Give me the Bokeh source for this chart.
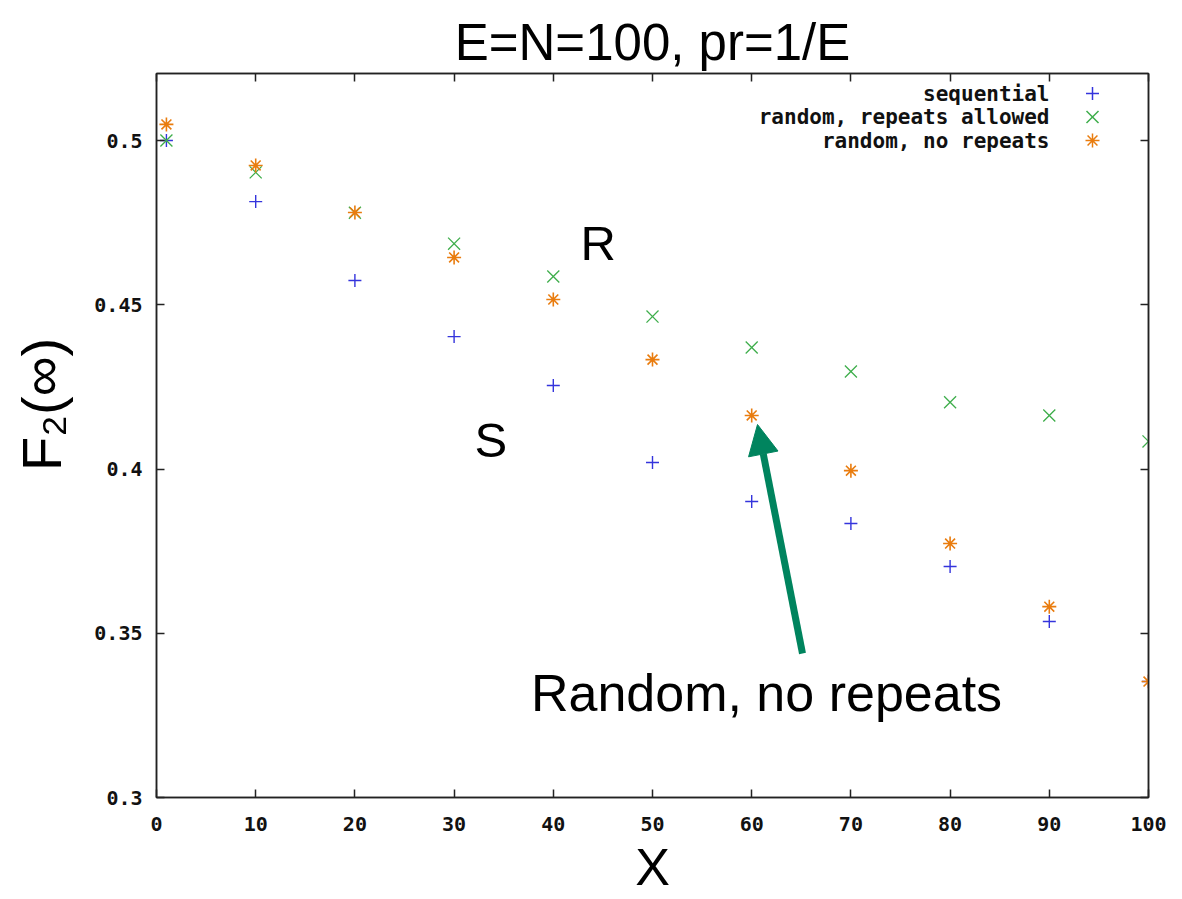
import math
from bokeh.plotting import figure
from bokeh.models import Label, Arrow, NormalHead, FixedTicker, LinearAxis, Range1d
from bokeh.embed import file_html
from bokeh.resources import INLINE

# ---- data ----
x_vals = [1, 10, 20, 30, 40, 50, 60, 70, 80, 90, 100]
sequential = [0.500, 0.4814, 0.4574, 0.4403, 0.4254, 0.4020, 0.3901, 0.3834, 0.3703, 0.3536, 0.3353]
random_repeats = [0.500, 0.4903, 0.4780, 0.4686, 0.4586, 0.4464, 0.4370, 0.4297, 0.4203, 0.4163, 0.4084]
random_no_repeats = [0.5049, 0.4924, 0.4781, 0.4644, 0.4516, 0.4333, 0.4163, 0.3995, 0.3773, 0.3581, 0.3353]
series_names = ["sequential", "random, repeats allowed", "random, no repeats"]
x_ticks = [0, 10, 20, 30, 40, 50, 60, 70, 80, 90, 100]
y_ticks = [0.3, 0.35, 0.4, 0.45, 0.5]
y_tick_labels = ["0.3", "0.35", "0.4", "0.45", "0.5"]

BLUE = "#3434dc"
GREEN = "#3fae4c"
ORANGE = "#e97c0e"
TEAL = "#00845e"
BIG = "Liberation Sans"
MONO = "DejaVu Sans Mono"

X0, X1 = 0, 100
Y0, Y1 = 0.3, 0.5204

p = figure(width=1182, height=899, x_range=Range1d(X0, X1), y_range=Range1d(Y0, Y1),
           output_backend="svg", toolbar_location=None,
           min_border_left=156, min_border_right=34, min_border_top=73, min_border_bottom=102)
p.background_fill_color = "white"
p.border_fill_color = "white"
p.outline_line_color = "#222222"
p.outline_line_width = 1.5
p.grid.visible = False

p.title.text = "E=N=100, pr=1/E"
p.title.align = "center"
p.title.text_font = BIG
p.title.text_font_size = "51px"
p.title.text_font_style = "normal"
p.title.text_color = "black"
p.title.standoff = 6

def style_axis(ax, ticks, show_labels=True):
    ax.ticker = FixedTicker(ticks=ticks)
    ax.major_tick_in = 8
    ax.major_tick_out = 0
    ax.minor_tick_line_color = None
    ax.major_tick_line_width = 1.5
    ax.major_tick_line_color = "#222222"
    ax.axis_line_color = "#222222"
    ax.axis_line_width = 1.5
    ax.major_label_text_font = MONO
    ax.major_label_text_font_style = "bold"
    ax.major_label_text_font_size = "20px"
    ax.major_label_text_color = "#111111"
    if not show_labels:
        ax.major_label_text_font_size = "0px"
        ax.major_label_standoff = 0

xa = p.xaxis[0]
style_axis(xa, x_ticks)
xa.major_label_standoff = 19
xa.axis_label = "X"
xa.axis_label_text_font = BIG
xa.axis_label_text_font_size = "52px"
xa.axis_label_text_font_style = "normal"
xa.axis_label_text_color = "black"
xa.axis_label_standoff = 4

ya = p.yaxis[0]
style_axis(ya, y_ticks)
ya.major_label_overrides = {t: s for t, s in zip(y_ticks, y_tick_labels)}
ya.major_label_standoff = 14
ya.axis_label = "\u00a0\u00a0\u00a0\u00a0F\u2082(\u221e)"
ya.axis_label_text_font = BIG
ya.axis_label_text_font_size = "56px"
ya.axis_label_text_font_style = "normal"
ya.axis_label_text_color = "black"
ya.axis_label_standoff = 18

top_ax = LinearAxis()
style_axis(top_ax, x_ticks, show_labels=False)
p.add_layout(top_ax, "above")
right_ax = LinearAxis()
style_axis(right_ax, y_ticks, show_labels=False)
p.add_layout(right_ax, "right")

# data markers
p.scatter(x_vals, sequential, marker="cross", size=13, line_color=BLUE, line_width=1.4)
p.scatter(x_vals, random_repeats, marker="x", size=17, line_color=GREEN, line_width=1.3)
p.scatter(x_vals, random_no_repeats, marker="asterisk", size=14, line_color=ORANGE, line_width=1.6)

# pixel -> data helpers (layout only)
def dx(px):
    return X0 + (px - 156) / (1148 - 156) * (X1 - X0)

def dy(py):
    return Y1 - (py - 73) / (797 - 73) * (Y1 - Y0)

# legend (gnuplot style: text then symbol)
legend_rows = [93, 116.5, 140]
markers = ["cross", "x", "asterisk"]
colors = [BLUE, GREEN, ORANGE]
sizes = [13, 17, 14]
for name, row, mk, col, sz in zip(series_names, legend_rows, markers, colors, sizes):
    p.add_layout(Label(x=dx(1049), y=dy(row), text=name, text_align="right", text_baseline="middle",
                       text_font=MONO, text_font_style="bold", text_font_size="21px", text_color="#111111"))
    p.scatter([dx(1092)], [dy(row)], marker=mk, size=sz, line_color=col, line_width=1.5)

def big_label(px, base_py, text, size, align="left", **kw):
    # empirical: bokeh's alphabetic baseline sits ~0.42em below target
    return Label(x=dx(px), y=dy(base_py - 0.42 * size), text=text, text_align=align,
                 text_baseline="alphabetic", text_font=BIG, text_font_size=f"{size}px",
                 text_color="black", **kw)

p.add_layout(big_label(580, 263, "R", 49))
p.add_layout(big_label(474, 460, "S", 49))
p.add_layout(big_label(766, 714, "Random, no repeats", 52, align="center"))
p.add_layout(Label(x=dx(-27), y=dy(266 - 26), text="s", text_align="left", text_baseline="alphabetic",
                   text_font=BIG, text_font_style="bold", text_font_size="62px", text_color="#1c2a8a",
                   level="overlay"))

p.add_layout(Arrow(end=NormalHead(size=30, fill_color=TEAL, line_color=TEAL),
                   x_start=dx(802), y_start=dy(653), x_end=dx(757), y_end=dy(424),
                   line_color=TEAL, line_width=7))

open("out.html", "w").write(file_html(p, INLINE))
